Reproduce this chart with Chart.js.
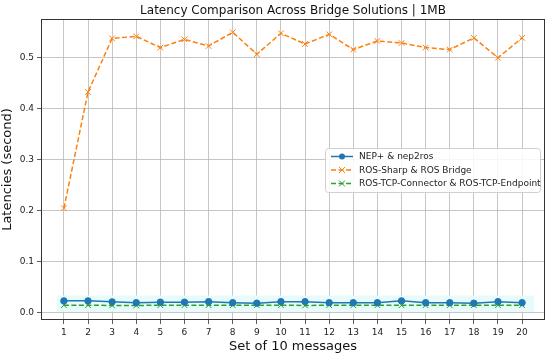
<!DOCTYPE html>
<html>
<head>
<meta charset="utf-8">
<script src="https://cdn.jsdelivr.net/npm/chart.js@4"></script>
<style>
  html, body { margin: 0; padding: 0; background: #fff; }
  #wrap { width: 550px; height: 354px; position: relative; }
</style>
</head>
<body>
<div id="wrap"><canvas id="chart"></canvas></div>
<script>
// ----- DATA -----
const messageSets = [1, 2, 3, 4, 5, 6, 7, 8, 9, 10, 11, 12, 13, 14, 15, 16, 17, 18, 19, 20];
const nepLatency = [0.0235, 0.0235, 0.0216, 0.020, 0.021, 0.021, 0.022, 0.020, 0.019, 0.022,
                    0.022, 0.020, 0.020, 0.020, 0.0235, 0.020, 0.020, 0.019, 0.022, 0.020];
const rosSharpLatency = [0.205, 0.433, 0.538, 0.542, 0.520, 0.536, 0.523, 0.550, 0.507, 0.548,
                         0.527, 0.546, 0.516, 0.533, 0.529, 0.520, 0.516, 0.539, 0.500, 0.539];
const rosTcpLatency = [0.015, 0.015, 0.0145, 0.0145, 0.015, 0.015, 0.015, 0.015, 0.015, 0.015,
                       0.0145, 0.015, 0.015, 0.015, 0.015, 0.015, 0.015, 0.015, 0.015, 0.015];
const seriesNames = ["NEP+ & nep2ros", "ROS-Sharp & ROS Bridge", "ROS-TCP-Connector & ROS-TCP-Endpoint"];
const yTickValues = [0, 0.1, 0.2, 0.3, 0.4, 0.5];
const bandX = [0.7, 20.5];
const bandY = [0.002, 0.034];

const FONT = "DejaVu Sans";

const toPoints = vals => messageSets.map((x, i) => ({ x: x, y: vals[i] }));

// ----- PLUGINS -----
const bandPlugin = {
    id: "band",
    beforeDatasetsDraw(chart) {
        const { ctx, scales: { x, y } } = chart;
        ctx.save();
        ctx.fillStyle = "#e8fbfb";
        const x0 = x.getPixelForValue(bandX[0]), x1 = x.getPixelForValue(bandX[1]);
        const y0 = y.getPixelForValue(bandY[1]), y1 = y.getPixelForValue(bandY[0]);
        ctx.fillRect(x0, y0, x1 - x0, y1 - y0);
        ctx.restore();
    }
};

const frameAndLegend = {
    id: "frameAndLegend",
    afterDraw(chart) {
        const { ctx, chartArea: a } = chart;
        ctx.save();
        // frame
        ctx.strokeStyle = "#333";
        ctx.lineWidth = 1;
        ctx.strokeRect(a.left + 0.5, a.top + 0.5, a.right - a.left - 1, a.bottom - a.top - 1);

        // title
        ctx.fillStyle = "#111";
        ctx.font = "12px " + FONT;
        ctx.textAlign = "center";
        ctx.textBaseline = "middle";
        ctx.fillText("Latency Comparison Across Bridge Solutions | 1MB", (a.left + a.right) / 2, 11);

        // legend
        const bx = 325, by = 148, bw = 215, bh = 44;
        ctx.fillStyle = "rgba(255,255,255,0.85)";
        ctx.strokeStyle = "#d0d0d0";
        ctx.beginPath();
        ctx.roundRect(bx + 0.5, by + 0.5, bw, bh, 3);
        ctx.fill();
        ctx.stroke();
        ctx.font = "9px " + FONT;
        ctx.textAlign = "left";
        chart.data.datasets.forEach((ds, i) => {
            const yy = by + 8.5 + i * 13.5;
            ctx.strokeStyle = ds.borderColor;
            ctx.lineWidth = 1.5;
            ctx.setLineDash(ds.borderDash || []);
            ctx.beginPath();
            ctx.moveTo(bx + 6, yy);
            ctx.lineTo(bx + 28, yy);
            ctx.stroke();
            ctx.setLineDash([]);
            const mx = bx + 17;
            if (ds.pointStyle === "circle") {
                ctx.fillStyle = ds.borderColor;
                ctx.beginPath();
                ctx.arc(mx, yy, 3, 0, Math.PI * 2);
                ctx.fill();
            } else {
                ctx.lineWidth = 1;
                ctx.beginPath();
                ctx.moveTo(mx - 3, yy - 3); ctx.lineTo(mx + 3, yy + 3);
                ctx.moveTo(mx - 3, yy + 3); ctx.lineTo(mx + 3, yy - 3);
                ctx.stroke();
            }
            ctx.fillStyle = "#222";
            ctx.fillText(ds.label, bx + 34, yy + 0.5);
        });
        ctx.restore();
    }
};

// ----- GRÁFICO -----
const lineBase = { fill: false, tension: 0, borderWidth: 1.5, pointBorderWidth: 1 };

new Chart(document.getElementById("chart"), {
    type: "line",
    data: {
        datasets: [
            {
                ...lineBase,
                label: seriesNames[0],
                data: toPoints(nepLatency),
                borderColor: "#1f77b4",
                backgroundColor: "#1f77b4",
                pointStyle: "circle",
                pointRadius: 3.2
            },
            {
                ...lineBase,
                label: seriesNames[1],
                data: toPoints(rosSharpLatency),
                borderColor: "#ff7f0e",
                backgroundColor: "#ff7f0e",
                borderDash: [5, 2.5],
                pointStyle: "crossRot",
                pointRadius: 4
            },
            {
                ...lineBase,
                label: seriesNames[2],
                data: toPoints(rosTcpLatency),
                borderColor: "#2ca02c",
                backgroundColor: "#2ca02c",
                borderDash: [5, 2.5],
                pointStyle: "crossRot",
                pointRadius: 4
            }
        ]
    },
    options: {
        responsive: true,
        maintainAspectRatio: false,
        animation: false,
        layout: { padding: { top: 19, right: 5, left: 0, bottom: 0 } },
        plugins: {
            legend: { display: false },
            title: { display: false },
            tooltip: { enabled: false }
        },
        scales: {
            x: {
                type: "linear",
                min: 0.05,
                max: 20.95,
                afterBuildTicks: s => { s.ticks = messageSets.map(v => ({ value: v })); },
                afterFit: s => { s.height = 34; },
                grid: { color: "#b8b8b8", lineWidth: 0.8, tickLength: 4, tickColor: "#333" },
                border: { display: false },
                ticks: { color: "#222", font: { family: FONT, size: 9 }, padding: 3, maxRotation: 0, autoSkip: false },
                title: {
                    display: true, text: "Set of 10 messages", color: "#111",
                    font: { family: FONT, size: 13 }, padding: { top: 0, bottom: 0 }
                }
            },
            y: {
                min: -0.014,
                max: 0.576,
                afterBuildTicks: s => { s.ticks = yTickValues.map(v => ({ value: v })); },
                afterFit: s => { s.width = 41; },
                grid: { color: "#b8b8b8", lineWidth: 0.8, tickLength: 4, tickColor: "#333" },
                border: { display: false },
                ticks: {
                    color: "#222", font: { family: FONT, size: 9 }, padding: 3,
                    callback: v => v.toFixed(1)
                },
                title: {
                    display: true, text: "Latencies (second)", color: "#111",
                    font: { family: FONT, size: 13 }, padding: { top: 0, bottom: 4 }
                }
            }
        }
    },
    plugins: [bandPlugin, frameAndLegend]
});
</script>
</body>
</html>
